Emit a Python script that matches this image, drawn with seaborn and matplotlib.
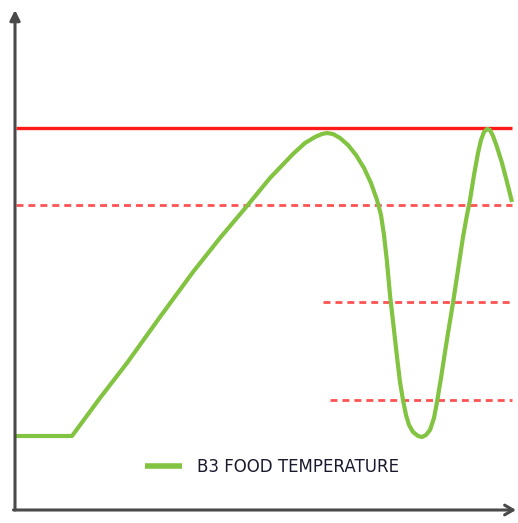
import numpy as np
import pandas as pd
import matplotlib
matplotlib.use("Agg")
import matplotlib.pyplot as plt
import seaborn as sns

# food temperature curve (time, temp in arbitrary units)
time = [0.2, 11.4, 17.0, 22.4, 29.0, 35.6, 41.0, 46.4, 51.0, 55.6, 58.0, 60.0,
        61.4, 62.4, 63.6, 65.0, 66.6, 68.2, 69.8, 71.2, 72.4, 73.2, 73.8, 74.4,
        75.0, 75.8, 76.4, 77.0, 77.6, 78.2, 78.8, 79.6, 80.6, 81.4, 82.2, 83.0,
        83.8, 84.4, 85.2, 86.0, 86.8, 87.6, 88.6, 89.6, 90.4, 91.0, 91.8, 92.6,
        93.2, 93.8, 94.4, 95.0, 95.6, 96.4, 97.4, 98.4, 99.4]
temp = [14.8, 14.8, 22.4, 29.4, 38.6, 47.6, 54.4, 60.8, 66.4, 71.2, 73.4, 74.6,
        75.2, 75.4, 75.2, 74.4, 73.0, 71.0, 68.4, 65.4, 62.0, 59.0, 55.0, 49.6,
        43.0, 36.0, 30.6, 25.6, 22.0, 19.0, 17.0, 15.6, 14.8, 14.6, 15.0, 16.0,
        18.4, 21.6, 26.4, 31.6, 36.6, 41.4, 48.0, 54.6, 59.0, 62.0, 67.0, 71.4,
        74.0, 75.6, 76.2, 76.0, 74.8, 72.6, 69.4, 65.6, 61.6]

# limit lines: level, start, end
limit_level = 76.4
limit_span = (0.2, 99.4)
dashed_levels = [61.0, 41.6, 22.0]
dashed_starts = [0.2, 61.6, 63.0]
dashed_end = 99.4

series_label = "B3 FOOD TEMPERATURE"

df = pd.DataFrame({"time": time, "temp": temp})

sns.set_style("white")
plt.rcParams["font.family"] = ["DejaVu Sans"]

fig = plt.figure(figsize=(5.18, 5.23), dpi=100)
ax = fig.add_axes([15 / 518, 13 / 523, 501 / 518, 500 / 523])

ax.hlines(limit_level, *limit_span, color="#ff1a1a", lw=2.4, zorder=2)
for lvl, x0 in zip(dashed_levels, dashed_starts):
    ax.hlines(lvl, x0, dashed_end, color="#ff5252", lw=2.0,
              linestyles=(0, (2.5, 1.8)), zorder=2)

sns.lineplot(data=df, x="time", y="temp", ax=ax, color="#82c341", lw=3.0,
             label=series_label, sort=False, zorder=3,
             solid_joinstyle="round", solid_capstyle="butt")

ax.set_xlim(0, 100.2)
ax.set_ylim(0, 100)
ax.set_xlabel("")
ax.set_ylabel("")
ax.set_xticks([])
ax.set_yticks([])
for s in ax.spines.values():
    s.set_visible(False)

# arrow axes
arrow = dict(arrowstyle="-|>,head_length=0.6,head_width=0.3", color="#4a4a4a",
             lw=2.2, shrinkA=0, shrinkB=0)
ax.annotate("", xy=(0, 1.0), xytext=(0, 0), xycoords="axes fraction",
            arrowprops=arrow, annotation_clip=False)
arrow_r = dict(arrowstyle="->,head_length=0.6,head_width=0.35", color="#4a4a4a",
               lw=2.2, shrinkA=0, shrinkB=0)
ax.annotate("", xy=(1.0, 0), xytext=(-0.003, 0), xycoords="axes fraction",
            arrowprops=arrow_r, annotation_clip=False)

leg = ax.legend(loc="center left", bbox_to_anchor=(145 / 518, 56 / 523),
                bbox_transform=fig.transFigure, frameon=False, borderpad=0,
                borderaxespad=0, handlelength=2.2, handletextpad=0.9,
                prop={"size": 12})
for t in leg.get_texts():
    t.set_color("#1a1a2e")
for h in leg.get_lines():
    h.set_linewidth(4)

fig.savefig("out.png", dpi=100)
